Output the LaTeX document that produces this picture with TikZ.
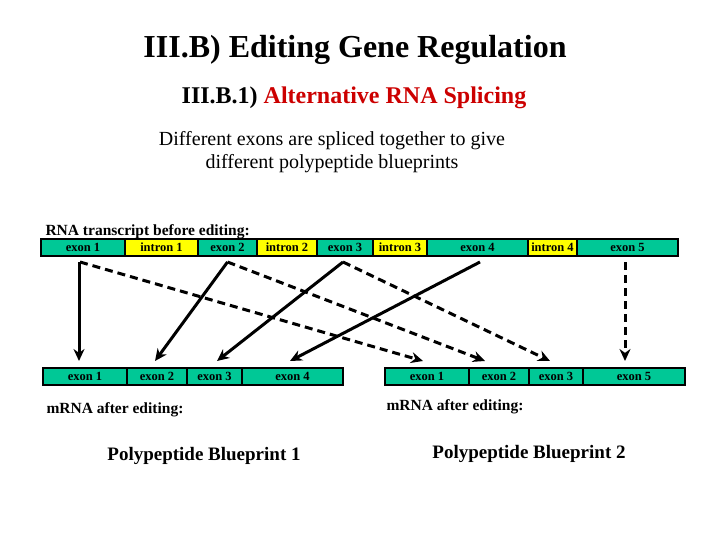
\documentclass[tikz,border=0pt]{standalone}
\usepackage{fontspec}
\setmainfont{Liberation Serif}
\usetikzlibrary{arrows.meta}
\definecolor{exongreen}{RGB}{0,200,150}
\definecolor{intronyellow}{RGB}{255,255,0}
\definecolor{titlered}{RGB}{204,0,0}
\begin{document}
\begin{tikzpicture}[x=1pt,y=-1pt,
    seg/.style={draw=black, line width=2pt, inner sep=0pt, minimum height=17pt,
      font=\bfseries\fontsize{12.5}{12.5}\selectfont},
    splice/.style={line width=3pt, -{Stealth[length=12pt,width=11pt]}},
    altsplice/.style={splice, dash pattern=on 8pt off 5pt},
    caption/.style={font=\bfseries\fontsize{15.5}{15.5}\selectfont, anchor=base west},
    blueprint/.style={font=\bfseries\fontsize{19}{19}\selectfont, anchor=base}]
    \useasboundingbox (0,0) rectangle (720,540);
    % headings
    \node[font=\bfseries\fontsize{32}{32}\selectfont, anchor=base] (title) at (355,58) {III.B) Editing Gene Regulation};
    \node[font=\bfseries\fontsize{24}{24}\selectfont, anchor=base] (subtitle) at (354,104) {III.B.1) \textcolor{titlered}{Alternative RNA Splicing}};
    \node[font=\fontsize{20}{23}\selectfont, align=center] (intro) at (332,152) {Different exons are spliced together to give\\different polypeptide blueprints};
    % RNA transcript
    \node[caption] (pre) at (42,236) {RNA transcript before editing:};
    \foreach \name/\xa/\xb/\col/\txt in {t1/41/125/exongreen/exon 1, ti1/125/198/intronyellow/intron 1,
        t2/198/257/exongreen/exon 2, ti2/257/317/intronyellow/intron 2, t3/317/373/exongreen/exon 3,
        ti3/373/427/intronyellow/intron 3, t4/427/528/exongreen/exon 4, ti4/528/577/intronyellow/intron 4,
        t5/577/678/exongreen/exon 5}
      \node[seg, fill=\col, minimum width={(\xb-\xa)*1pt}] (\name) at ({(\xa+\xb)/2},247.5) {\txt};
    % mRNA 1 and 2
    \foreach \name/\xa/\xb/\txt in {a1/43/127/exon 1, a2/127/187/exon 2, a3/187/242/exon 3, a4/242/343/exon 4,
        b1/385/469/exon 1, b2/469/529/exon 2, b3/529/583/exon 3, b5/583/685/exon 5}
      \node[seg, fill=exongreen, minimum width={(\xb-\xa)*1pt}] (\name) at ({(\xa+\xb)/2},376.5) {\txt};
    \node[caption] (post1) at (43,413) {mRNA after editing:};
    \node[caption] (post2) at (383,410) {mRNA after editing:};
    \node[blueprint] (bp1) at (204,460) {Polypeptide Blueprint 1};
    \node[blueprint] (bp2) at (529,458) {Polypeptide Blueprint 2};
    % splicing 1
    \draw[splice] ([xshift=-4pt,yshift=-5pt]t1.south) -- ([xshift=-6pt,yshift=6pt]a1.north);
    \draw[splice] ([yshift=-5pt]t2.south) -- ([xshift=-2pt,yshift=6pt]a2.north);
    \draw[splice] ([xshift=-2pt,yshift=-5pt]t3.south) -- ([xshift=2.5pt,yshift=6pt]a3.north);
    \draw[splice] ([xshift=2.5pt,yshift=-5pt]t4.south) -- ([xshift=-2.5pt,yshift=6pt]a4.north);
    % splicing 2
    \draw[altsplice] ([xshift=-3pt,yshift=-5pt]t1.south) -- ([xshift=-4pt,yshift=6pt]b1.north);
    \draw[altsplice] ([yshift=-5pt]t2.south) -- ([xshift=-14pt,yshift=6pt]b2.north);
    \draw[altsplice] ([xshift=-2pt,yshift=-5pt]t3.south) -- ([xshift=-6pt,yshift=6pt]b3.north);
    \draw[altsplice] ([xshift=-2.5pt,yshift=-5pt]t5.south) -- ([xshift=-9pt,yshift=6pt]b5.north);
\end{tikzpicture}
\end{document}
